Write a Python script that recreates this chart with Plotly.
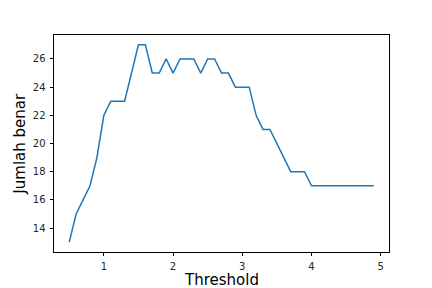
import plotly.graph_objects as go

thresholds = [0.5, 0.6, 0.7, 0.8, 0.9, 1.0, 1.1, 1.2, 1.3, 1.4, 1.5, 1.6, 1.7, 1.8, 1.9,
              2.0, 2.1, 2.2, 2.3, 2.4, 2.5, 2.6, 2.7, 2.8, 2.9, 3.0, 3.1, 3.2, 3.3, 3.4,
              3.5, 3.6, 3.7, 3.8, 3.9, 4.0, 4.1, 4.2, 4.3, 4.4, 4.5, 4.6, 4.7, 4.8, 4.9]
jumlah_benar = [13, 15, 16, 17, 19, 22, 23, 23, 23, 25, 27, 27, 25, 25, 26,
                25, 26, 26, 26, 25, 26, 26, 25, 25, 24, 24, 24, 22, 21, 21,
                20, 19, 18, 18, 18, 17, 17, 17, 17, 17, 17, 17, 17, 17, 17]
x_ticks = [1, 2, 3, 4, 5]
y_ticks = [14, 16, 18, 20, 22, 24, 26]

fig = go.Figure()
fig.add_trace(go.Scatter(x=thresholds, y=jumlah_benar, mode="lines",
                         line=dict(color="#1f77b4", width=1.5)))

axis_common = dict(showline=True, linecolor="black", linewidth=0.8, mirror=True,
                   ticks="outside", ticklen=3.5, tickwidth=0.8, tickcolor="black",
                   showgrid=False, zeroline=False, ticklabelstandoff=2,
                   automargin=False,
                   tickfont=dict(family="DejaVu Sans", size=10, color="#262626"))

title_font = dict(family="DejaVu Sans", size=15, color="black")

fig.update_layout(
    width=432, height=288,
    margin=dict(l=54, r=43, t=35, b=36),
    paper_bgcolor="white", plot_bgcolor="white",
    showlegend=False,
    xaxis=dict(range=[0.28, 5.12], tickvals=x_ticks, **axis_common),
    yaxis=dict(range=[12.3, 27.7], tickvals=y_ticks, **axis_common),
    annotations=[
        dict(text="Threshold", xref="paper", yref="paper", x=0.5, y=-0.127,
             xanchor="center", yanchor="middle", showarrow=False, font=title_font),
        dict(text="Jumlah benar", xref="paper", yref="paper", x=-0.104, y=0.5,
             xanchor="center", yanchor="middle", textangle=-90, showarrow=False, font=title_font),
    ],
)

fig.write_html("out.html")
